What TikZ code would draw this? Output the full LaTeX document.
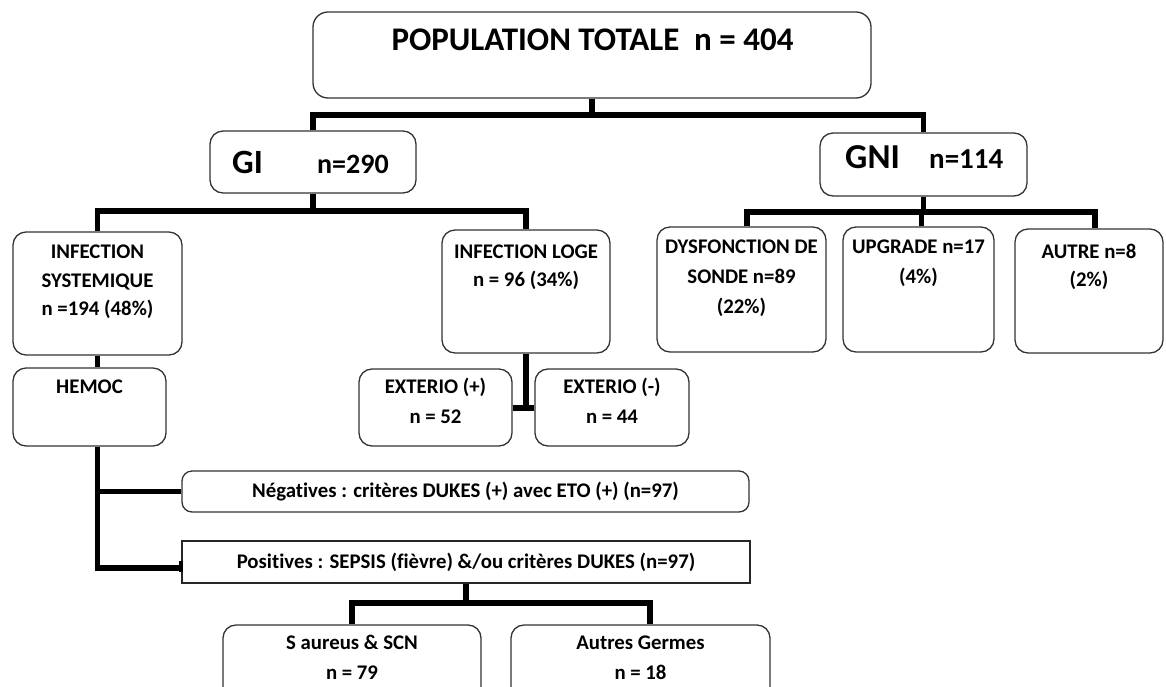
\documentclass[tikz,border=0pt]{standalone}
\usepackage{fontspec}
\setmainfont{Carlito}[Ligatures=NoCommon]
\begin{document}
\begin{tikzpicture}[x=1pt,y=-1pt,
  box/.style={draw=black!80, line width=1.3pt, rounded corners=13pt, fill=white, inner sep=0pt},
  sqbox/.style={draw=black!85, line width=1.5pt, fill=white, inner sep=0pt},
  conn/.style={line width=5.5pt, draw=black, line join=miter},
  txt/.style={font=\fontsize{20.8}{24}\selectfont\bfseries, inner sep=0pt, anchor=base},
  big/.style={font=\fontsize{#1}{#1}\selectfont\bfseries, inner sep=0pt, anchor=base west}
]
\clip (0,0) rectangle (1166,686);
\fill[white] (0,0) rectangle (1166,686);

% boxes
\node[box, rounded corners=15pt, minimum width=558pt, minimum height=86pt] (top) at (592,55) {};
\node[box, minimum width=206pt, minimum height=62pt] (gi) at (313,162) {};
\node[box, minimum width=207pt, minimum height=63pt] (gni) at (923.5,164.5) {};
\node[box, minimum width=169pt, minimum height=123pt] (sys) at (97.5,293.5) {};
\node[box, minimum width=168pt, minimum height=123pt] (loge) at (526,291.5) {};
\node[box, minimum width=169pt, minimum height=125pt] (dysf) at (741.5,289.5) {};
\node[box, minimum width=151pt, minimum height=125pt] (upg) at (918.5,289.5) {};
\node[box, minimum width=148pt, minimum height=124pt] (autre) at (1089,291) {};
\node[box, minimum width=153pt, minimum height=78pt] (hemoc) at (89.5,407) {};
\node[box, minimum width=153pt, minimum height=77pt] (extp) at (435.5,407.5) {};
\node[box, minimum width=154pt, minimum height=77pt] (extm) at (612,407.5) {};
\node[box, rounded corners=10pt, minimum width=567pt, minimum height=41pt] (neg) at (465.5,491.5) {};
\node[sqbox, minimum width=568pt, minimum height=42pt] (pos) at (466,562) {};
\node[box, minimum width=258pt, minimum height=75pt] (saur) at (352,662.5) {};
\node[box, minimum width=259pt, minimum height=75pt] (autres) at (640.5,662.5) {};

% texts
\node[big=33, anchor=base] (top-t) at (592.5,50.6) {POPULATION TOTALE\ \ n = 404};
\node[big=34] (gi-a) at (232,173) {GI};
\node[big=28] (gi-b) at (317,173) {n=290};
\node[big=35] (gni-a) at (845,168) {GNI};
\node[big=29] (gni-b) at (929,168) {n=114};

\node[txt] (sys-1) at (97.5,258.6) {INFECTION};
\node[txt] (sys-2) at (97.5,287.6) {SYSTEMIQUE};
\node[txt] (sys-3) at (97.5,315.6) {n =194 (48\%)};
\node[txt] (loge-1) at (526,258.6) {INFECTION LOGE};
\node[txt] (loge-2) at (526,286.6) {n = 96 (34\%)};
\node[txt] (dysf-1) at (741.5,253.6) {DYSFONCTION DE};
\node[txt] (dysf-2) at (741.5,283.6) {SONDE n=89};
\node[txt] (dysf-3) at (741.5,313.6) {(22\%)};
\node[txt] (upg-1) at (918.5,253.6) {UPGRADE n=17};
\node[txt] (upg-2) at (918.5,283.6) {(4\%)};
\node[txt] (autre-1) at (1089,258.6) {AUTRE n=8};
\node[txt] (autre-2) at (1089,286.6) {(2\%)};
\node[txt] (hemoc-1) at (89.5,393.6) {HEMOC};
\node[txt] (extp-1) at (435.5,393.6) {EXTERIO (+)};
\node[txt] (extp-2) at (435.5,423.6) {n = 52};
\node[txt] (extm-1) at (612,393.6) {EXTERIO (-)};
\node[txt] (extm-2) at (612,423.6) {n = 44};
\node[txt] (neg-1) at (465.5,497.6) {Négatives : critères DUKES (+) avec ETO (+) (n=97)};
\node[txt] (pos-1) at (466,568.6) {Positives : SEPSIS (fièvre) \&/ou critères DUKES (n=97)};
\node[txt] (saur-1) at (352,649.6) {S aureus \& SCN};
\node[txt] (saur-2) at (352,679.6) {n = 79};
\node[txt] (autres-1) at (640.5,649.6) {Autres Germes};
\node[txt] (autres-2) at (640.5,679.6) {n = 18};

% connectors
\coordinate (j0) at (592,115);
\draw[conn] (top.south) -- (j0);
\draw[conn] (gi.north) |- (j0) -| (gni.north);

\coordinate (j1) at (313,211);
\draw[conn] (gi.south) -- (j1);
\draw[conn] (sys.north) |- (j1) -| (loge.north);

\coordinate (j2) at (923.5,212);
\draw[conn] (gni.south) -- (j2);
\draw[conn] ([xshift=5.5pt]dysf.north) |- (j2) -| ([xshift=6pt]autre.north);
\draw[conn] ([xshift=3pt]upg.north) -- ([xshift=3pt]upg.north |- j2);

\draw[conn] (sys.south) -- (sys.south |- hemoc.north);

\coordinate (hb) at (97.5,568);
\draw[conn] (sys.south |- hemoc.south) -- (hb) -- (hb -| pos.west);
\draw[line width=4pt] ([yshift=1pt]pos.west) -- ([yshift=-10pt]pos.west);
\draw[conn] (neg.west) -- (neg.west -| hb);

\coordinate (jx) at (526,408);
\draw[conn] (loge.south) -- (jx);
\draw[conn] (extp.east |- jx) -- (extm.west |- jx);

\coordinate (j3) at (466,603);
\draw[conn] (pos.south) -- (j3);
\draw[conn] (saur.north) |- (j3) -| ([xshift=9.5pt]autres.north);
\end{tikzpicture}
\end{document}
